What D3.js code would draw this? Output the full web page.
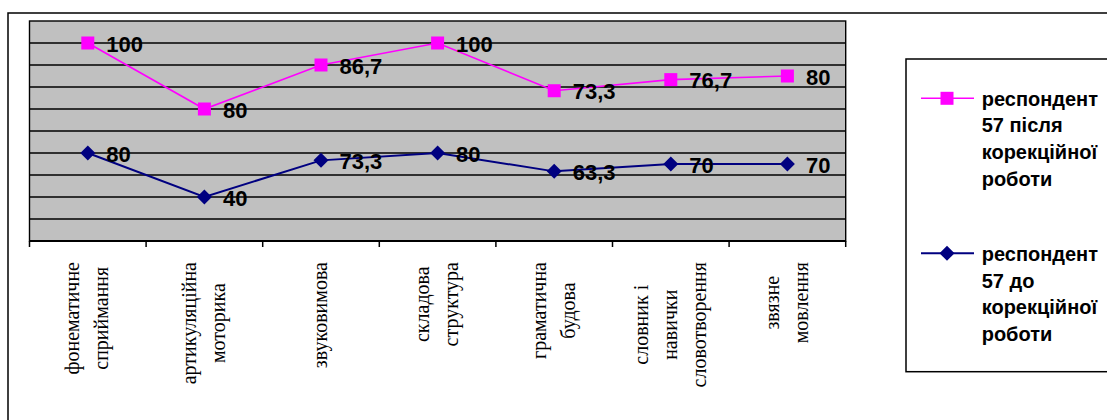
<!DOCTYPE html>
<html><head><meta charset="utf-8">
<script src="https://cdn.jsdelivr.net/npm/d3@7/dist/d3.min.js"></script>
<style>html,body{margin:0;padding:0;background:#fff;}svg{display:block;}</style>
</head><body>
<script>
const categories = ["фонематичне\nсприймання","артикуляційна\nмоторика","звуковимова","складова\nструктура","граматична\nбудова","словник і\nнавички\nсловотворення","звязне\nмовлення"];
const before = [80, 40, 73.3, 80, 63.3, 70, 70];
const after = [100, 80, 86.7, 100, 73.3, 76.7, 80];
const beforeLabels = ["80","40","73,3","80","63,3","70","70"];
const afterLabels = ["100","80","86,7","100","73,3","76,7","80"];
const legendAfter = ["респондент","57 після","корекційної","роботи"];
const legendBefore = ["респондент","57 до","корекційної","роботи"];
const yTicks = d3.range(0, 201, 20);

const W = 1107, H = 420;
const svg = d3.select("body").append("svg").attr("width", W).attr("height", H);

// outer frame
svg.append("rect").attr("x", 8).attr("y", 13).attr("width", 1120).attr("height", 430)
  .attr("fill", "#fff").attr("stroke", "#000").attr("stroke-width", 1.5);

const pLeft = 29.5, pRight = 845.7, pTop = 21, pBottom = 241;
const x = d3.scaleBand().domain(categories).range([pLeft, pRight]);
const y = d3.scaleLinear().domain([0, 200]).range([pBottom, pTop]);

// plot area
svg.append("rect").attr("x", pLeft).attr("y", pTop).attr("width", pRight - pLeft).attr("height", pBottom - pTop)
  .attr("fill", "#C0C0C0").attr("stroke", "#000").attr("stroke-width", 1.4);

// gridlines
svg.append("g").selectAll("line").data(yTicks.filter(d => d > 0 && d < 200)).join("line")
  .attr("x1", pLeft).attr("x2", pRight).attr("y1", d => y(d)).attr("y2", d => y(d))
  .attr("stroke", "#000").attr("stroke-width", 1.3);

// x axis
const xAxis = svg.append("g").attr("transform", `translate(0,${pBottom})`);
xAxis.append("line").attr("x1", pLeft).attr("x2", pRight).attr("stroke", "#000").attr("stroke-width", 2);
const tickPos = categories.map(c => x(c)).concat([pRight]);
xAxis.selectAll("line.tick").data(tickPos).join("line").attr("class", "tick")
  .attr("x1", d => d).attr("x2", d => d).attr("y1", 0).attr("y2", 6)
  .attr("stroke", "#000").attr("stroke-width", 1.5);

// category labels (rotated)
const lineGap = 29;
const labG = svg.append("g");
categories.forEach(c => {
  const lines = c.split("\n");
  const ccx = x(c) + x.bandwidth() / 2;
  const g = labG.append("g");
  const tmp = [];
  lines.forEach((ln, i) => {
    const off = (i - (lines.length - 1) / 2) * lineGap;
    const t = g.append("text").text(ln)
      .attr("font-family", "'Liberation Serif','Times New Roman',serif")
      .attr("font-size", 20).attr("fill", "#000")
      .attr("text-anchor", "middle").datum(off);
    tmp.push(t);
  });
  const maxLen = d3.max(tmp, t => t.node().getComputedTextLength());
  const center = 262 + maxLen / 2;
  tmp.forEach(t => {
    const off = t.datum();
    t.attr("transform", `translate(${ccx + off + 6},${center}) rotate(-90)`);
  });
});

// stacked data
const rows = categories.map((c, i) => ({cat: c, before: before[i], after: after[i]}));
const stacked = d3.stack().keys(["before", "after"])(rows);
const cx = d => x(d.data.cat) + x.bandwidth() / 2;

const styles = {
  before: {color: "#000080", labels: beforeLabels, width: 2},
  after: {color: "#FF00FF", labels: afterLabels, width: 1.6}
};

stacked.forEach(s => {
  const st = styles[s.key];
  const line = d3.line().x(cx).y(d => y(d[1]));
  svg.append("path").datum(s).attr("d", line).attr("fill", "none")
    .attr("stroke", st.color).attr("stroke-width", st.width);
});
stacked.forEach(s => {
  const st = styles[s.key];
  const g = svg.append("g");
  if (s.key === "after") {
    g.selectAll("rect").data(s).join("rect")
      .attr("x", d => cx(d) - 6.5).attr("y", d => y(d[1]) - 6.5)
      .attr("width", 13).attr("height", 13).attr("fill", st.color);
  } else {
    g.selectAll("path").data(s).join("path")
      .attr("d", d => `M${cx(d)},${y(d[1]) - 7.5}L${cx(d) + 7.5},${y(d[1])}L${cx(d)},${y(d[1]) + 7.5}L${cx(d) - 7.5},${y(d[1])}Z`)
      .attr("fill", st.color);
  }
  g.selectAll("text").data(s).join("text")
    .attr("x", d => cx(d) + 18.5).attr("y", d => y(d[1]) + 8.5)
    .attr("font-family", "'Liberation Sans',Arial,sans-serif").attr("font-weight", "bold")
    .attr("font-size", 22).attr("fill", "#000")
    .text((d, i) => st.labels[i]);
});

// legend
svg.append("rect").attr("x", 906).attr("y", 59).attr("width", 260).attr("height", 312.7)
  .attr("fill", "#fff").attr("stroke", "#000").attr("stroke-width", 1.5);
const legendItems = [
  {lines: legendAfter, key: "after", my: 98.3, base: 105.7},
  {lines: legendBefore, key: "before", my: 253.3, base: 261}
];
legendItems.forEach(it => {
  const st = styles[it.key];
  svg.append("line").attr("x1", 921).attr("x2", 974).attr("y1", it.my).attr("y2", it.my)
    .attr("stroke", st.color).attr("stroke-width", st.width);
  if (it.key === "after") {
    svg.append("rect").attr("x", 947 - 6.5).attr("y", it.my - 6.5).attr("width", 13).attr("height", 13).attr("fill", st.color);
  } else {
    svg.append("path").attr("d", `M947,${it.my - 7.5}L954.5,${it.my}L947,${it.my + 7.5}L939.5,${it.my}Z`).attr("fill", st.color);
  }
  it.lines.forEach((ln, i) => {
    svg.append("text").attr("x", 981.7).attr("y", it.base + i * 26.7)
      .attr("font-family", "'Liberation Sans',Arial,sans-serif").attr("font-weight", "bold")
      .attr("font-size", 20).attr("fill", "#000").text(ln);
  });
});
</script>
</body></html>
